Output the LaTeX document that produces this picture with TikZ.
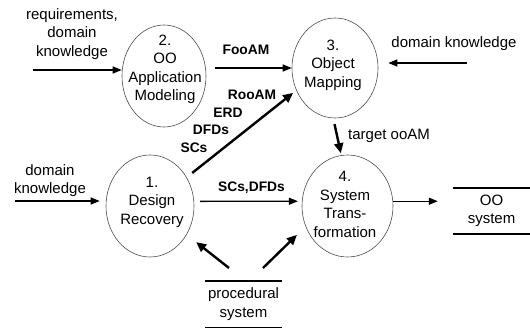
\documentclass[tikz,border=0pt]{standalone}
\usepackage{fontspec}
\setmainfont{Liberation Sans}
\usetikzlibrary{shapes.geometric,arrows.meta}
\begin{document}
\begin{tikzpicture}[x=1pt,y=-1pt,
  proc/.style={ellipse,draw=black!70,line width=0.6pt,inner sep=0pt},
  txt/.style={font=\fontsize{15}{18.5}\selectfont,align=center,inner sep=0pt},
  lbl/.style={font=\fontsize{13.8}{16}\selectfont\bfseries,inner sep=0pt},
  flow/.style={line width=1.3pt,-{Triangle[length=9pt,width=7pt]}},
  bigflow/.style={line width=2.4pt,-{Triangle[length=10pt,width=9pt]}},
  store/.style={minimum width=77pt,minimum height=46pt,inner sep=0pt,align=center,
    font=\fontsize{15}{18.5}\selectfont}
]
\useasboundingbox (0,0) rectangle (530,329);

% processes
\node[proc,minimum width=84pt,minimum height=102pt] (e2) at (164,76) {};
\node[proc,minimum width=86pt,minimum height=100pt] (e3) at (335,68) {};
\node[proc,minimum width=88pt,minimum height=102pt] (e1) at (150,206) {};
\node[proc,minimum width=91pt,minimum height=102pt] (e4) at (347.5,206) {};

\node[txt] (t2) at (165,69.5) {2.\\OO\\Application\\Modeling};
\node[txt] (t3) at (333,65) {3.\\Object\\Mapping};
\node[txt] (t1) at (152,202) {1.\\Design\\Recovery};
\node[txt] (t4) at (345,204.5) {4.\\System\\Trans-\\formation};

% data stores
\node[store] (ps) at (243.5,304) {procedural\\system};
\draw[line width=1.5pt] (ps.north west) -- (ps.north east);
\draw[line width=0.9pt] (ps.south west) -- (ps.south east);
\node[store] (oo) at (491.5,211) {OO\\system};
\draw[line width=1.5pt] (oo.north west) -- (oo.north east);
\draw[line width=1.5pt] (oo.south west) -- (oo.south east);

% free ends of the flows
\coordinate (rq) at (33,70);
\coordinate (dk3) at (467,63);
\coordinate (dk1) at (15,201);
\coordinate (pl) at (229,268);
\coordinate (pr) at (263,268);

% flows
\draw[flow] (rq) -- (rq -| e2.west);
\draw[flow,shorten <=9pt] (e2.east |- e3.west) -- (e3.west);
\draw[flow,shorten >=10pt] (dk3) -- (dk3 -| e3.east);
\draw[bigflow,shorten <=6pt,shorten >=2pt] (e3.268) -- (e4.97);
\draw[bigflow,shorten <=7pt,shorten >=4pt] (e1.38) -- (e3.210);
\draw[flow,shorten <=6pt,shorten >=4pt] (e1.6) -- (e4.174);
\draw[flow,shorten >=6pt] (dk1) -- (dk1 -| e1.west);
\draw[flow,shorten >=15pt] (e4.6) -- (e4.6 -| oo.west);
\draw[bigflow,shorten >=12pt] (pl) -- (e1.322);
\draw[bigflow,shorten >=12pt] (pr) -- (e4.206);

% labels
\node[txt] (lreq) at (72,34) {requirements,\\domain\\knowledge};
\node[txt] (ldk3) at (454,44) {domain knowledge};
\node[txt] (ldk1) at (50,180.5) {domain\\knowledge};
\node[txt,anchor=west] (ltgt) at (348,136) {target ooAM};
\node[lbl] (lfoo) at (246,50) {FooAM};
\node[lbl] (lroo) at (252,95) {RooAM};
\node[lbl] (lerd) at (228,113) {ERD};
\node[lbl] (ldfd) at (211,130) {DFDs};
\node[lbl] (lsc) at (194,148) {SCs};
\node[lbl] (lsd) at (251.5,188) {SCs,DFDs};
\end{tikzpicture}
\end{document}
